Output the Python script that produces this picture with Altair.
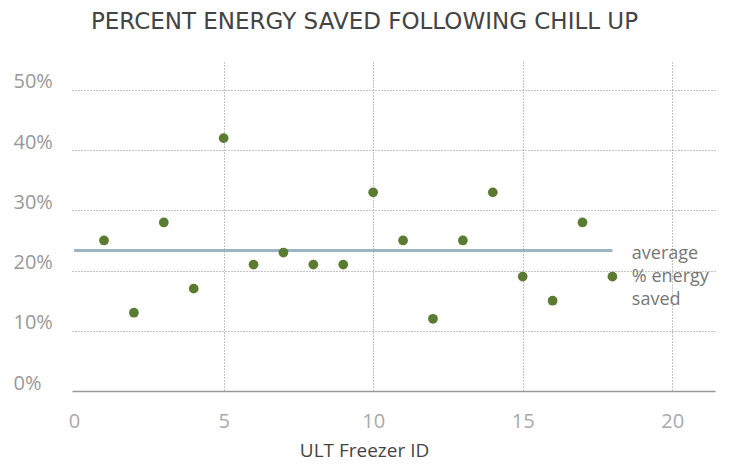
import altair as alt
import pandas as pd

freezer_id = list(range(1, 19))
pct_saved = [0.25, 0.13, 0.28, 0.17, 0.42, 0.21, 0.23, 0.21, 0.21, 0.33,
             0.25, 0.12, 0.25, 0.33, 0.19, 0.15, 0.28, 0.19]
avg_value = sum(pct_saved) / len(pct_saved)
avg_span = [0, 18]
annot_lines = ["average", "% energy", "saved"]

df = pd.DataFrame({"id": freezer_id, "pct": pct_saved})
avg_df = pd.DataFrame({"x0": [avg_span[0]], "x1": [avg_span[1]], "y": [avg_value]})
annot_df = pd.DataFrame({"x": [18.65], "y": [avg_value], "text": [annot_lines]})

FONT = "Open Sans"

xscale = alt.Scale(domain=[-0.07, 21.43], nice=False, zero=False)
yscale = alt.Scale(domain=[0, 0.5465], nice=False)

xaxis = alt.Axis(
    values=[0, 5, 10, 15, 20], grid=True, gridDash=[1, 2], gridColor="#888",
    gridWidth=1, gridOpacity=alt.condition("datum.value == 0", alt.value(0), alt.value(1)),
    ticks=False, domain=True, domainColor="#999", domainWidth=1.5,
    labelFont=FONT, labelFontSize=20, labelColor="#aaa", labelPadding=20,
    title="ULT Freezer ID", titleFont=FONT, titleFontSize=19, titleColor="#444",
    titleFontWeight="normal", titleX=292, titleY=65, titleBaseline="alphabetic",
    titleAlign="center",
)
yaxis = alt.Axis(
    values=[0, 0.1, 0.2, 0.3, 0.4, 0.5], format=".0%", grid=True, gridDash=[1, 2],
    gridColor="#888", gridWidth=1,
    gridOpacity=alt.condition("datum.value == 0", alt.value(0), alt.value(1)),
    ticks=False, domain=False, labelFont=FONT, labelFontSize=20, labelColor="#999",
    labelAlign="left", labelPadding=59, labelBaseline="middle", labelOffset=-8,
    title=None,
)

points = alt.Chart(df).mark_circle(size=95, color="#5b7b33", opacity=1).encode(
    x=alt.X("id:Q", scale=xscale, axis=xaxis),
    y=alt.Y("pct:Q", scale=yscale, axis=yaxis),
)

avg_line = alt.Chart(avg_df).mark_rule(color="#9db4c3", strokeWidth=3).encode(
    x=alt.X("x0:Q", scale=xscale),
    x2="x1:Q",
    y=alt.Y("y:Q", scale=yscale),
)

annot = alt.Chart(annot_df).mark_text(
    align="left", baseline="top", font=FONT, fontSize=18, color="#777",
    lineHeight=23, dy=-6,
).encode(
    x=alt.X("x:Q", scale=xscale),
    y=alt.Y("y:Q", scale=yscale),
    text="text",
)

chart = alt.layer(avg_line, points, annot).properties(
    width=643, height=329,
    padding={"left": 64, "top": 54, "right": 12, "bottom": 71},
    autosize=alt.AutoSizeParams(type="none"),
    title=alt.TitleParams(
        "PERCENT ENERGY SAVED FOLLOWING CHILL UP", font="DejaVu Sans", fontSize=23,
        fontWeight="normal", color="#444", anchor="middle", dx=-29, offset=10,
        baseline="alphabetic",
    ),
).configure_view(stroke=None)

chart.save("out.html", embed_options={"renderer": "svg", "actions": False})
